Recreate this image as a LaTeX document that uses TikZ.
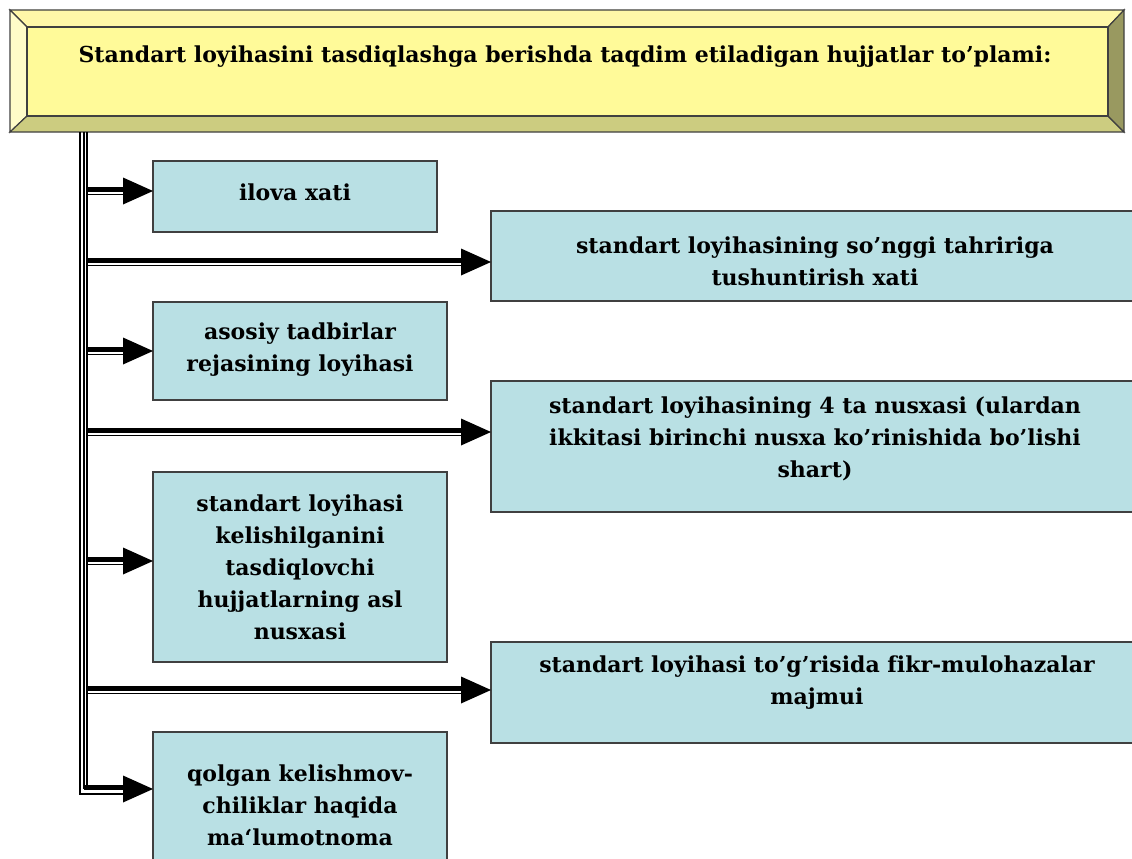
\documentclass[tikz,border=0pt]{standalone}
\usepackage{fontspec}
\setmainfont{DejaVu Serif}[Ligatures=NoCommon]
\usetikzlibrary{calc}
\definecolor{boxfill}{HTML}{B9E0E4}
\definecolor{edge}{HTML}{404040}
\definecolor{face}{HTML}{FFFA99}
\definecolor{bevtop}{HTML}{FFF7A8}
\definecolor{bevleft}{HTML}{FFFCC8}
\definecolor{bevbot}{HTML}{CCCC80}
\definecolor{bevright}{HTML}{999960}
\begin{document}
\begin{tikzpicture}[x=1pt,y=-1pt,
  itembox/.style={draw=edge, line width=1.8pt, fill=boxfill, rectangle,
    inner sep=0pt, outer sep=0pt, anchor=north west},
  itemtext/.style={align=center, inner sep=0pt,
    font=\bfseries\fontsize{22}{32}\selectfont},
  bevel/.style={draw=edge, line width=1.2pt, line join=miter},
  thickbar/.style={line width=5pt},
  thinbar/.style={line width=1.2pt},
]
\useasboundingbox (0,0) rectangle (1132,859);
\clip (0,0) rectangle (1132,859);

% bevelled title panel
\filldraw[bevel, fill=bevtop]   (10,10) -- (1124,10) -- (1108,27) -- (27,27) -- cycle;
\filldraw[bevel, fill=bevleft]  (10,10) -- (27,27) -- (27,116) -- (10,132) -- cycle;
\filldraw[bevel, fill=bevbot]   (10,132) -- (27,116) -- (1108,116) -- (1124,132) -- cycle;
\filldraw[bevel, fill=bevright] (1124,10) -- (1124,132) -- (1108,116) -- (1108,27) -- cycle;
\node[draw=edge, line width=1.2pt, fill=face, rectangle, inner sep=0pt, outer sep=0pt,
  anchor=north west, minimum width=1081pt, minimum height=89pt] (head) at (27,27) {};
\node[itemtext] (title) at (565,57)
  {Standart loyihasini tasdiqlashga berishda taqdim etiladigan hujjatlar to’plami:};

% document boxes
\node[itembox, minimum width=284pt, minimum height=71pt]  (b1) at (153,161) {};
\node[itembox, minimum width=660pt, minimum height=90pt]  (b2) at (491,211) {};
\node[itembox, minimum width=294pt, minimum height=98pt]  (b3) at (153,302) {};
\node[itembox, minimum width=660pt, minimum height=131pt] (b4) at (491,381) {};
\node[itembox, minimum width=294pt, minimum height=190pt] (b5) at (153,472) {};
\node[itembox, minimum width=660pt, minimum height=101pt] (b6) at (491,642) {};
\node[itembox, minimum width=294pt, minimum height=150pt] (b7) at (153,732) {};

\node[itemtext] (t1) at (295,192) {ilova xati};
\node[itemtext] (t2) at (815,261) {standart loyihasining so’nggi tahririga\\tushuntirish xati};
\node[itemtext] (t3) at (300,350) {asosiy tadbirlar\\rejasining loyihasi};
\node[itemtext] (t4) at (815,439) {standart loyihasining 4 ta nusxasi (ulardan\\ikkitasi birinchi nusxa ko’rinishida bo’lishi\\shart)};
\node[itemtext] (t5) at (300,567) {standart loyihasi\\kelishilganini\\tasdiqlovchi\\hujjatlarning asl\\nusxasi};
\node[itemtext] (t6) at (817,683) {standart loyihasi to’g’risida fikr-mulohazalar\\majmui};
\node[itemtext] (t7) at (300,805) {qolgan kelishmov-\\chiliklar haqida\\ma‘lumotnoma};

% trunk below the title panel
\coordinate (trunk) at (87,132);
\coordinate (last) at (87,789);
\draw[line width=1.7pt, line join=miter] (trunk -| 80,0) -- (80,794) -- ($(last -| b7.west)+(-30,5)$);
\draw[line width=1.4pt] (trunk -| 84,0) -- (84,789);
\draw[line width=2.6pt] (trunk) -- (last);
\draw[thickbar] ($(last)+(-3,-1.2)$) -- ($(last -| b7.west)+(-30,-1.2)$);
\fill (last -| b7.west) -- ++(-30,-13.5) -- ++(0,27) -- cycle;

% branches to each box
\foreach \yc/\b in {191/b1, 262/b2, 351/b3, 432/b4, 561/b5, 690/b6} {
  \coordinate (s) at (87,\yc);
  \draw[thickbar] ($(s)+(0,-1.2)$) -- ($(s -| \b.west)+(-30,-1.2)$);
  \draw[thinbar] ($(s)+(0,3.5)$) -- ($(s -| \b.west)+(-30,3.5)$);
  \fill (s -| \b.west) -- ++(-30,-13.5) -- ++(0,27) -- cycle;
}
\end{tikzpicture}
\end{document}
